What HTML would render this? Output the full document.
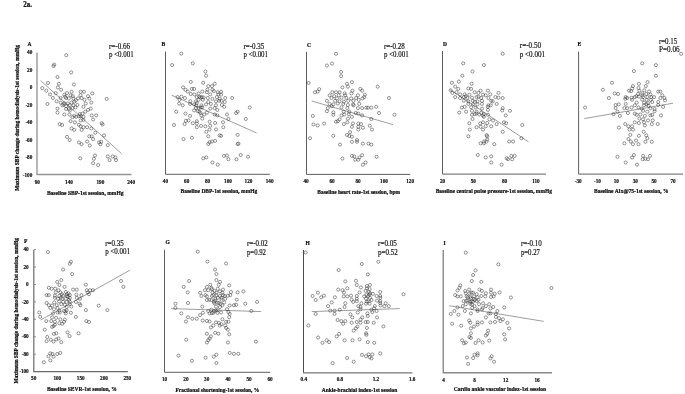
<!DOCTYPE html>
<html lang="en"><head><meta charset="utf-8"><title>Figure 2a</title>
<style>html,body{margin:0;padding:0;background:#fff}svg{display:block}text{font-family:"Liberation Serif","Times New Roman",serif;fill:#111}.b,.tt,.lt{stroke:#111;stroke-width:.22px}.tk{stroke:#111;stroke-width:.17px}.rp{fill:#111;stroke:#111;stroke-width:.16px}.b{font-weight:bold}.tk{font-size:5.2px;font-weight:bold}.tt{font-size:5.7px;font-weight:bold}.rp{font-size:7.3px}.lt{font-size:5.5px;font-weight:bold}.ax{stroke:#8c8c8c;stroke-width:1.25;fill:none}.rl{stroke:#3c3c3c;stroke-width:.5;fill:none}.pt circle{fill:#fff;fill-opacity:.0;stroke:#2c2c2c;stroke-width:.5}</style></head><body>
<svg width="685" height="394" viewBox="0 0 685 394">
<rect width="685" height="394" fill="#fff"/>
<text x="23.2" y="7.0" class="b" style="font-size:7.6px" textLength="8.9" lengthAdjust="spacingAndGlyphs">2a.</text>
<g id="panel-A">
<path class="ax" style="stroke:#959595;stroke-width:1.35" d="M37.00 52.4V174.50H131.5"/>
<path class="rl" d="M40.6 80.6L121.7 153.8"/>
<text x="27.6" y="45.8" class="lt">A</text>
<text x="37.3" y="183.7" class="tk" text-anchor="middle">90</text>
<text x="69.0" y="183.7" class="tk" text-anchor="middle">140</text>
<text x="100.4" y="183.7" class="tk" text-anchor="middle">190</text>
<text x="131.1" y="183.7" class="tk" text-anchor="middle">240</text>
<text x="46.9" y="194.5" class="tt" textLength="76.6" lengthAdjust="spacingAndGlyphs" xml:space="preserve">Baseline SBP-1st session, mmHg</text>
<text x="109.0" y="48.7" class="rp" textLength="21.1" lengthAdjust="spacingAndGlyphs" xml:space="preserve">r=-0.66</text>
<text x="109.0" y="57.1" class="rp" textLength="24.6" lengthAdjust="spacingAndGlyphs" xml:space="preserve">p &lt;0.001</text>
<text x="32.3" y="54.2" class="tk" text-anchor="end">40</text>
<text x="32.3" y="71.7" class="tk" text-anchor="end">20</text>
<text x="32.3" y="89.2" class="tk" text-anchor="end">0</text>
<text x="32.3" y="106.7" class="tk" text-anchor="end">-20</text>
<text x="32.3" y="124.2" class="tk" text-anchor="end">-40</text>
<text x="32.3" y="141.7" class="tk" text-anchor="end">-60</text>
<text x="32.3" y="159.2" class="tk" text-anchor="end">-80</text>
<text x="32.3" y="176.7" class="tk" text-anchor="end">-100</text>
<text transform="translate(19.2 190.8) rotate(-90)" class="tt" textLength="145.8" lengthAdjust="spacingAndGlyphs">Maximum SBP change during hemodialysis-1st session, mmHg</text>
<g class="pt"><circle cx="66.3" cy="55.2" r="1.55"/><circle cx="54.2" cy="64.6" r="1.55"/><circle cx="53.5" cy="66.0" r="1.55"/><circle cx="71.2" cy="72.4" r="1.55"/><circle cx="57.5" cy="77.0" r="1.55"/><circle cx="48.0" cy="83.0" r="1.55"/><circle cx="58.9" cy="83.8" r="1.55"/><circle cx="73.9" cy="84.5" r="1.55"/><circle cx="42.3" cy="88.1" r="1.55"/><circle cx="57.9" cy="87.4" r="1.55"/><circle cx="61.1" cy="89.8" r="1.55"/><circle cx="46.3" cy="90.7" r="1.55"/><circle cx="71.6" cy="91.8" r="1.55"/><circle cx="80.7" cy="91.8" r="1.55"/><circle cx="84.0" cy="91.8" r="1.55"/><circle cx="55.7" cy="93.1" r="1.55"/><circle cx="67.0" cy="93.1" r="1.55"/><circle cx="92.2" cy="93.4" r="1.55"/><circle cx="50.0" cy="94.4" r="1.55"/><circle cx="64.3" cy="94.7" r="1.55"/><circle cx="70.6" cy="95.3" r="1.55"/><circle cx="88.0" cy="96.2" r="1.55"/><circle cx="52.9" cy="98.0" r="1.55"/><circle cx="60.6" cy="98.0" r="1.55"/><circle cx="66.1" cy="98.0" r="1.55"/><circle cx="68.8" cy="98.4" r="1.55"/><circle cx="73.4" cy="98.4" r="1.55"/><circle cx="78.0" cy="98.4" r="1.55"/><circle cx="81.6" cy="98.0" r="1.55"/><circle cx="89.3" cy="98.6" r="1.55"/><circle cx="106.7" cy="98.9" r="1.55"/><circle cx="84.4" cy="99.8" r="1.55"/><circle cx="56.6" cy="101.3" r="1.55"/><circle cx="60.6" cy="102.6" r="1.55"/><circle cx="64.3" cy="103.1" r="1.55"/><circle cx="67.9" cy="103.5" r="1.55"/><circle cx="71.6" cy="102.6" r="1.55"/><circle cx="74.3" cy="101.7" r="1.55"/><circle cx="85.8" cy="103.5" r="1.55"/><circle cx="91.3" cy="102.6" r="1.55"/><circle cx="47.4" cy="104.0" r="1.55"/><circle cx="62.4" cy="105.3" r="1.55"/><circle cx="66.1" cy="106.2" r="1.55"/><circle cx="69.7" cy="105.3" r="1.55"/><circle cx="73.4" cy="105.3" r="1.55"/><circle cx="77.4" cy="105.0" r="1.55"/><circle cx="83.4" cy="106.8" r="1.55"/><circle cx="57.5" cy="108.6" r="1.55"/><circle cx="66.1" cy="109.0" r="1.55"/><circle cx="68.8" cy="109.0" r="1.55"/><circle cx="72.5" cy="108.1" r="1.55"/><circle cx="90.8" cy="108.6" r="1.55"/><circle cx="88.0" cy="109.9" r="1.55"/><circle cx="57.5" cy="112.6" r="1.55"/><circle cx="64.3" cy="114.5" r="1.55"/><circle cx="69.4" cy="114.5" r="1.55"/><circle cx="79.8" cy="114.1" r="1.55"/><circle cx="82.5" cy="113.6" r="1.55"/><circle cx="85.3" cy="111.7" r="1.55"/><circle cx="91.7" cy="115.4" r="1.55"/><circle cx="96.2" cy="115.4" r="1.55"/><circle cx="74.3" cy="115.9" r="1.55"/><circle cx="78.9" cy="116.3" r="1.55"/><circle cx="72.5" cy="117.1" r="1.55"/><circle cx="76.1" cy="116.8" r="1.55"/><circle cx="80.7" cy="116.2" r="1.55"/><circle cx="83.4" cy="116.8" r="1.55"/><circle cx="93.1" cy="119.5" r="1.55"/><circle cx="70.6" cy="121.2" r="1.55"/><circle cx="80.7" cy="120.4" r="1.55"/><circle cx="83.4" cy="119.9" r="1.55"/><circle cx="59.7" cy="124.1" r="1.55"/><circle cx="62.1" cy="125.0" r="1.55"/><circle cx="74.9" cy="122.3" r="1.55"/><circle cx="78.9" cy="124.8" r="1.55"/><circle cx="80.7" cy="126.3" r="1.55"/><circle cx="101.7" cy="123.2" r="1.55"/><circle cx="102.6" cy="124.5" r="1.55"/><circle cx="71.6" cy="128.5" r="1.55"/><circle cx="74.3" cy="129.9" r="1.55"/><circle cx="81.6" cy="129.9" r="1.55"/><circle cx="83.4" cy="127.2" r="1.55"/><circle cx="87.1" cy="127.2" r="1.55"/><circle cx="91.3" cy="128.5" r="1.55"/><circle cx="95.3" cy="132.7" r="1.55"/><circle cx="104.1" cy="135.4" r="1.55"/><circle cx="67.0" cy="136.9" r="1.55"/><circle cx="69.7" cy="140.0" r="1.55"/><circle cx="89.3" cy="136.3" r="1.55"/><circle cx="91.7" cy="136.3" r="1.55"/><circle cx="93.1" cy="139.1" r="1.55"/><circle cx="78.9" cy="142.4" r="1.55"/><circle cx="81.6" cy="144.2" r="1.55"/><circle cx="87.1" cy="141.5" r="1.55"/><circle cx="89.8" cy="145.5" r="1.55"/><circle cx="99.0" cy="142.4" r="1.55"/><circle cx="101.2" cy="141.8" r="1.55"/><circle cx="100.4" cy="144.2" r="1.55"/><circle cx="107.8" cy="145.1" r="1.55"/><circle cx="95.0" cy="155.5" r="1.55"/><circle cx="93.9" cy="158.8" r="1.55"/><circle cx="80.3" cy="158.3" r="1.55"/><circle cx="107.8" cy="156.4" r="1.55"/><circle cx="112.7" cy="156.4" r="1.55"/><circle cx="115.4" cy="157.4" r="1.55"/><circle cx="109.6" cy="160.1" r="1.55"/><circle cx="116.0" cy="160.1" r="1.55"/><circle cx="93.1" cy="163.2" r="1.55"/><circle cx="98.1" cy="165.0" r="1.55"/><circle cx="63.7" cy="104.4" r="1.55"/><circle cx="80.5" cy="95.2" r="1.55"/><circle cx="75.4" cy="107.4" r="1.55"/><circle cx="72.8" cy="96.2" r="1.55"/><circle cx="75.9" cy="100.3" r="1.55"/><circle cx="65.2" cy="96.8" r="1.55"/><circle cx="69.8" cy="110.5" r="1.55"/></g>
</g>
<g id="panel-B">
<path class="ax" style="stroke:#5e5e5e;stroke-width:1.0" d="M165.50 51.6V174.30H269.8"/>
<path class="rl" d="M171.7 95.2L256.7 133"/>
<text x="161.6" y="45.8" class="lt">B</text>
<text x="165.4" y="183.2" class="tk" text-anchor="middle">40</text>
<text x="186.7" y="183.2" class="tk" text-anchor="middle">60</text>
<text x="207.5" y="183.2" class="tk" text-anchor="middle">80</text>
<text x="228.0" y="183.2" class="tk" text-anchor="middle">100</text>
<text x="248.5" y="183.2" class="tk" text-anchor="middle">120</text>
<text x="269.6" y="183.2" class="tk" text-anchor="middle">140</text>
<text x="180.6" y="193.2" class="tt" textLength="76.6" lengthAdjust="spacingAndGlyphs" xml:space="preserve">Baseline DBP-1st session, mmHg</text>
<text x="243.5" y="48.6" class="rp" textLength="20.8" lengthAdjust="spacingAndGlyphs" xml:space="preserve">r=-0.35</text>
<text x="243.5" y="57.3" class="rp" textLength="24.5" lengthAdjust="spacingAndGlyphs" xml:space="preserve">p &lt;0.001</text>
<g class="pt"><circle cx="181.3" cy="53.6" r="1.55"/><circle cx="172.1" cy="65.1" r="1.55"/><circle cx="192.8" cy="63.3" r="1.55"/><circle cx="205.4" cy="71.5" r="1.55"/><circle cx="206.1" cy="75.7" r="1.55"/><circle cx="190.8" cy="81.9" r="1.55"/><circle cx="203.2" cy="82.8" r="1.55"/><circle cx="214.7" cy="83.8" r="1.55"/><circle cx="208.3" cy="86.1" r="1.55"/><circle cx="212.0" cy="86.1" r="1.55"/><circle cx="183.1" cy="87.4" r="1.55"/><circle cx="185.5" cy="89.8" r="1.55"/><circle cx="191.9" cy="88.9" r="1.55"/><circle cx="194.1" cy="88.9" r="1.55"/><circle cx="207.4" cy="89.8" r="1.55"/><circle cx="212.4" cy="89.8" r="1.55"/><circle cx="187.7" cy="91.6" r="1.55"/><circle cx="202.3" cy="91.6" r="1.55"/><circle cx="206.9" cy="92.2" r="1.55"/><circle cx="213.8" cy="91.1" r="1.55"/><circle cx="217.8" cy="92.2" r="1.55"/><circle cx="221.1" cy="91.8" r="1.55"/><circle cx="190.8" cy="94.0" r="1.55"/><circle cx="194.4" cy="94.4" r="1.55"/><circle cx="198.6" cy="93.4" r="1.55"/><circle cx="210.2" cy="94.4" r="1.55"/><circle cx="218.4" cy="94.4" r="1.55"/><circle cx="221.1" cy="94.7" r="1.55"/><circle cx="177.6" cy="97.1" r="1.55"/><circle cx="181.3" cy="96.7" r="1.55"/><circle cx="184.9" cy="98.0" r="1.55"/><circle cx="196.8" cy="97.1" r="1.55"/><circle cx="200.5" cy="97.5" r="1.55"/><circle cx="203.6" cy="97.5" r="1.55"/><circle cx="207.8" cy="98.0" r="1.55"/><circle cx="212.4" cy="98.9" r="1.55"/><circle cx="216.9" cy="97.1" r="1.55"/><circle cx="219.7" cy="98.9" r="1.55"/><circle cx="225.2" cy="98.0" r="1.55"/><circle cx="232.1" cy="98.0" r="1.55"/><circle cx="179.5" cy="99.8" r="1.55"/><circle cx="190.4" cy="101.3" r="1.55"/><circle cx="195.9" cy="101.3" r="1.55"/><circle cx="198.6" cy="99.8" r="1.55"/><circle cx="202.9" cy="99.8" r="1.55"/><circle cx="208.3" cy="102.0" r="1.55"/><circle cx="216.0" cy="101.3" r="1.55"/><circle cx="221.5" cy="100.8" r="1.55"/><circle cx="224.8" cy="102.0" r="1.55"/><circle cx="179.1" cy="103.5" r="1.55"/><circle cx="182.7" cy="105.3" r="1.55"/><circle cx="190.1" cy="103.9" r="1.55"/><circle cx="194.1" cy="104.4" r="1.55"/><circle cx="196.8" cy="103.1" r="1.55"/><circle cx="201.4" cy="105.3" r="1.55"/><circle cx="206.0" cy="104.4" r="1.55"/><circle cx="210.9" cy="103.9" r="1.55"/><circle cx="216.0" cy="105.3" r="1.55"/><circle cx="221.9" cy="105.0" r="1.55"/><circle cx="224.2" cy="106.8" r="1.55"/><circle cx="195.9" cy="108.1" r="1.55"/><circle cx="198.6" cy="108.1" r="1.55"/><circle cx="202.3" cy="107.2" r="1.55"/><circle cx="210.2" cy="108.6" r="1.55"/><circle cx="214.6" cy="108.1" r="1.55"/><circle cx="217.3" cy="109.9" r="1.55"/><circle cx="249.8" cy="107.5" r="1.55"/><circle cx="237.6" cy="111.7" r="1.55"/><circle cx="236.1" cy="113.0" r="1.55"/><circle cx="176.2" cy="111.7" r="1.55"/><circle cx="185.5" cy="113.6" r="1.55"/><circle cx="190.1" cy="115.9" r="1.55"/><circle cx="194.1" cy="110.4" r="1.55"/><circle cx="197.7" cy="111.2" r="1.55"/><circle cx="200.5" cy="113.0" r="1.55"/><circle cx="204.1" cy="114.5" r="1.55"/><circle cx="206.9" cy="112.6" r="1.55"/><circle cx="214.7" cy="114.5" r="1.55"/><circle cx="217.3" cy="115.4" r="1.55"/><circle cx="227.0" cy="114.5" r="1.55"/><circle cx="201.4" cy="115.4" r="1.55"/><circle cx="245.8" cy="119.0" r="1.55"/><circle cx="228.4" cy="119.0" r="1.55"/><circle cx="202.3" cy="118.6" r="1.55"/><circle cx="185.9" cy="120.8" r="1.55"/><circle cx="188.6" cy="120.4" r="1.55"/><circle cx="196.8" cy="121.2" r="1.55"/><circle cx="209.6" cy="121.7" r="1.55"/><circle cx="215.1" cy="123.0" r="1.55"/><circle cx="223.0" cy="122.3" r="1.55"/><circle cx="184.6" cy="124.1" r="1.55"/><circle cx="192.8" cy="123.2" r="1.55"/><circle cx="196.8" cy="123.5" r="1.55"/><circle cx="174.0" cy="125.0" r="1.55"/><circle cx="201.0" cy="125.9" r="1.55"/><circle cx="205.4" cy="126.3" r="1.55"/><circle cx="210.2" cy="125.7" r="1.55"/><circle cx="196.8" cy="127.2" r="1.55"/><circle cx="223.3" cy="127.2" r="1.55"/><circle cx="216.0" cy="129.4" r="1.55"/><circle cx="209.6" cy="129.6" r="1.55"/><circle cx="206.3" cy="131.8" r="1.55"/><circle cx="237.6" cy="134.9" r="1.55"/><circle cx="219.7" cy="135.4" r="1.55"/><circle cx="221.1" cy="135.8" r="1.55"/><circle cx="208.3" cy="136.3" r="1.55"/><circle cx="183.5" cy="139.1" r="1.55"/><circle cx="191.9" cy="137.8" r="1.55"/><circle cx="215.1" cy="140.9" r="1.55"/><circle cx="212.0" cy="141.5" r="1.55"/><circle cx="209.6" cy="142.2" r="1.55"/><circle cx="208.3" cy="144.0" r="1.55"/><circle cx="237.6" cy="144.0" r="1.55"/><circle cx="238.5" cy="143.6" r="1.55"/><circle cx="223.9" cy="155.9" r="1.55"/><circle cx="227.0" cy="155.5" r="1.55"/><circle cx="240.7" cy="155.0" r="1.55"/><circle cx="248.0" cy="156.8" r="1.55"/><circle cx="206.3" cy="157.4" r="1.55"/><circle cx="203.2" cy="158.3" r="1.55"/><circle cx="228.4" cy="159.2" r="1.55"/><circle cx="236.5" cy="159.2" r="1.55"/><circle cx="212.4" cy="162.5" r="1.55"/><circle cx="217.8" cy="164.7" r="1.55"/><circle cx="199.3" cy="96.8" r="1.55"/><circle cx="201.8" cy="97.1" r="1.55"/><circle cx="219.1" cy="100.8" r="1.55"/><circle cx="196.2" cy="105.4" r="1.55"/><circle cx="200.8" cy="107.6" r="1.55"/><circle cx="199.3" cy="111.7" r="1.55"/></g>
</g>
<g id="panel-C">
<path class="ax" style="stroke:#5e5e5e;stroke-width:1.0" d="M306.50 51.8V174.40H410.3"/>
<path class="rl" d="M311.7 101L392.9 124.6"/>
<text x="307.1" y="46.6" class="lt">C</text>
<text x="306.1" y="183.2" class="tk" text-anchor="middle">40</text>
<text x="332.0" y="183.2" class="tk" text-anchor="middle">60</text>
<text x="358.1" y="183.2" class="tk" text-anchor="middle">80</text>
<text x="384.0" y="183.2" class="tk" text-anchor="middle">100</text>
<text x="410.1" y="183.2" class="tk" text-anchor="middle">120</text>
<text x="317.3" y="193.5" class="tt" textLength="82.7" lengthAdjust="spacingAndGlyphs" xml:space="preserve">Baseline heart rate-1st session, bpm</text>
<text x="384.0" y="48.8" class="rp" textLength="20.8" lengthAdjust="spacingAndGlyphs" xml:space="preserve">r=-0.28</text>
<text x="384.0" y="57.2" class="rp" textLength="24.6" lengthAdjust="spacingAndGlyphs" xml:space="preserve">p &lt;0.001</text>
<g class="pt"><circle cx="336.0" cy="53.8" r="1.55"/><circle cx="332.0" cy="63.6" r="1.55"/><circle cx="326.9" cy="65.5" r="1.55"/><circle cx="341.1" cy="71.9" r="1.55"/><circle cx="341.1" cy="76.1" r="1.55"/><circle cx="308.6" cy="83.0" r="1.55"/><circle cx="351.9" cy="82.1" r="1.55"/><circle cx="347.0" cy="83.8" r="1.55"/><circle cx="342.4" cy="87.4" r="1.55"/><circle cx="347.9" cy="86.7" r="1.55"/><circle cx="377.7" cy="86.7" r="1.55"/><circle cx="319.2" cy="89.2" r="1.55"/><circle cx="315.0" cy="92.2" r="1.55"/><circle cx="317.7" cy="91.6" r="1.55"/><circle cx="360.3" cy="88.9" r="1.55"/><circle cx="362.1" cy="90.7" r="1.55"/><circle cx="352.4" cy="90.7" r="1.55"/><circle cx="332.3" cy="92.2" r="1.55"/><circle cx="336.0" cy="92.2" r="1.55"/><circle cx="339.6" cy="92.2" r="1.55"/><circle cx="344.6" cy="93.4" r="1.55"/><circle cx="351.5" cy="93.4" r="1.55"/><circle cx="329.6" cy="95.3" r="1.55"/><circle cx="334.2" cy="96.2" r="1.55"/><circle cx="338.7" cy="95.3" r="1.55"/><circle cx="345.1" cy="95.3" r="1.55"/><circle cx="357.9" cy="95.3" r="1.55"/><circle cx="364.9" cy="94.7" r="1.55"/><circle cx="331.4" cy="98.0" r="1.55"/><circle cx="336.9" cy="98.4" r="1.55"/><circle cx="341.5" cy="97.7" r="1.55"/><circle cx="346.4" cy="98.0" r="1.55"/><circle cx="351.2" cy="98.4" r="1.55"/><circle cx="356.1" cy="98.0" r="1.55"/><circle cx="362.5" cy="98.4" r="1.55"/><circle cx="364.3" cy="97.1" r="1.55"/><circle cx="389.0" cy="98.0" r="1.55"/><circle cx="326.9" cy="100.8" r="1.55"/><circle cx="335.1" cy="100.8" r="1.55"/><circle cx="339.6" cy="101.3" r="1.55"/><circle cx="343.9" cy="101.7" r="1.55"/><circle cx="348.2" cy="100.8" r="1.55"/><circle cx="353.4" cy="100.8" r="1.55"/><circle cx="358.8" cy="99.8" r="1.55"/><circle cx="329.6" cy="103.9" r="1.55"/><circle cx="333.3" cy="104.4" r="1.55"/><circle cx="337.8" cy="103.5" r="1.55"/><circle cx="343.3" cy="103.9" r="1.55"/><circle cx="347.9" cy="105.0" r="1.55"/><circle cx="353.0" cy="104.4" r="1.55"/><circle cx="359.2" cy="103.9" r="1.55"/><circle cx="327.8" cy="108.1" r="1.55"/><circle cx="331.8" cy="106.2" r="1.55"/><circle cx="341.5" cy="107.2" r="1.55"/><circle cx="347.3" cy="108.1" r="1.55"/><circle cx="353.7" cy="105.3" r="1.55"/><circle cx="357.9" cy="108.1" r="1.55"/><circle cx="362.1" cy="108.1" r="1.55"/><circle cx="366.2" cy="107.7" r="1.55"/><circle cx="368.0" cy="107.7" r="1.55"/><circle cx="371.3" cy="107.7" r="1.55"/><circle cx="376.2" cy="106.8" r="1.55"/><circle cx="326.9" cy="111.2" r="1.55"/><circle cx="333.3" cy="112.3" r="1.55"/><circle cx="343.7" cy="111.7" r="1.55"/><circle cx="349.3" cy="111.7" r="1.55"/><circle cx="355.7" cy="113.0" r="1.55"/><circle cx="358.3" cy="113.6" r="1.55"/><circle cx="379.0" cy="113.0" r="1.55"/><circle cx="312.8" cy="115.9" r="1.55"/><circle cx="333.3" cy="114.8" r="1.55"/><circle cx="341.5" cy="115.4" r="1.55"/><circle cx="344.2" cy="114.5" r="1.55"/><circle cx="348.8" cy="114.1" r="1.55"/><circle cx="362.1" cy="115.4" r="1.55"/><circle cx="394.5" cy="114.8" r="1.55"/><circle cx="351.9" cy="116.8" r="1.55"/><circle cx="347.9" cy="118.6" r="1.55"/><circle cx="339.6" cy="119.3" r="1.55"/><circle cx="371.3" cy="119.0" r="1.55"/><circle cx="337.8" cy="121.2" r="1.55"/><circle cx="336.0" cy="121.7" r="1.55"/><circle cx="347.3" cy="122.3" r="1.55"/><circle cx="343.9" cy="124.1" r="1.55"/><circle cx="353.0" cy="123.5" r="1.55"/><circle cx="358.3" cy="123.5" r="1.55"/><circle cx="361.0" cy="124.1" r="1.55"/><circle cx="313.5" cy="124.5" r="1.55"/><circle cx="317.7" cy="125.4" r="1.55"/><circle cx="324.1" cy="123.5" r="1.55"/><circle cx="351.9" cy="126.8" r="1.55"/><circle cx="358.3" cy="126.8" r="1.55"/><circle cx="362.9" cy="127.7" r="1.55"/><circle cx="369.8" cy="125.7" r="1.55"/><circle cx="372.0" cy="129.6" r="1.55"/><circle cx="358.3" cy="129.6" r="1.55"/><circle cx="350.1" cy="132.1" r="1.55"/><circle cx="347.0" cy="134.9" r="1.55"/><circle cx="349.3" cy="136.0" r="1.55"/><circle cx="351.9" cy="136.7" r="1.55"/><circle cx="333.3" cy="135.8" r="1.55"/><circle cx="310.0" cy="138.2" r="1.55"/><circle cx="357.0" cy="140.0" r="1.55"/><circle cx="351.9" cy="141.8" r="1.55"/><circle cx="357.0" cy="141.8" r="1.55"/><circle cx="362.9" cy="143.6" r="1.55"/><circle cx="368.4" cy="143.6" r="1.55"/><circle cx="371.3" cy="144.6" r="1.55"/><circle cx="340.0" cy="144.6" r="1.55"/><circle cx="351.9" cy="155.9" r="1.55"/><circle cx="354.3" cy="156.4" r="1.55"/><circle cx="362.1" cy="155.2" r="1.55"/><circle cx="359.4" cy="157.4" r="1.55"/><circle cx="376.6" cy="156.8" r="1.55"/><circle cx="342.4" cy="158.6" r="1.55"/><circle cx="355.2" cy="159.7" r="1.55"/><circle cx="358.3" cy="159.7" r="1.55"/><circle cx="365.6" cy="162.5" r="1.55"/><circle cx="362.9" cy="164.7" r="1.55"/></g>
</g>
<g id="panel-D">
<path class="ax" style="stroke:#5e5e5e;stroke-width:1.0" d="M442.50 51.0V174.10H546.0"/>
<path class="rl" d="M449.9 89.6L528.5 141.8"/>
<text x="443.1" y="45.8" class="lt">D</text>
<text x="442.6" y="183.2" class="tk" text-anchor="middle">20</text>
<text x="473.3" y="183.2" class="tk" text-anchor="middle">50</text>
<text x="504.5" y="183.2" class="tk" text-anchor="middle">80</text>
<text x="535.9" y="183.2" class="tk" text-anchor="middle">110</text>
<text x="435.7" y="193.2" class="tt" textLength="116.2" lengthAdjust="spacingAndGlyphs" xml:space="preserve">Baseline central pulse pressure-1st session, mmHg</text>
<text x="519.8" y="48.2" class="rp" textLength="21.3" lengthAdjust="spacingAndGlyphs" xml:space="preserve">r=-0.50</text>
<text x="519.8" y="57.1" class="rp" textLength="25.2" lengthAdjust="spacingAndGlyphs" xml:space="preserve">p &lt;0.001</text>
<g class="pt"><circle cx="502.7" cy="53.8" r="1.55"/><circle cx="463.2" cy="63.3" r="1.55"/><circle cx="483.9" cy="65.1" r="1.55"/><circle cx="472.5" cy="71.5" r="1.55"/><circle cx="462.3" cy="75.7" r="1.55"/><circle cx="451.9" cy="82.8" r="1.55"/><circle cx="458.8" cy="81.6" r="1.55"/><circle cx="471.6" cy="83.8" r="1.55"/><circle cx="455.2" cy="86.7" r="1.55"/><circle cx="458.3" cy="88.9" r="1.55"/><circle cx="468.3" cy="88.5" r="1.55"/><circle cx="471.1" cy="88.9" r="1.55"/><circle cx="480.6" cy="90.7" r="1.55"/><circle cx="487.9" cy="90.7" r="1.55"/><circle cx="450.6" cy="90.3" r="1.55"/><circle cx="452.4" cy="92.9" r="1.55"/><circle cx="456.5" cy="92.2" r="1.55"/><circle cx="474.7" cy="92.2" r="1.55"/><circle cx="478.4" cy="92.9" r="1.55"/><circle cx="498.5" cy="92.9" r="1.55"/><circle cx="460.1" cy="94.4" r="1.55"/><circle cx="464.7" cy="94.4" r="1.55"/><circle cx="469.3" cy="94.7" r="1.55"/><circle cx="483.0" cy="94.7" r="1.55"/><circle cx="485.7" cy="95.3" r="1.55"/><circle cx="490.3" cy="94.4" r="1.55"/><circle cx="455.2" cy="97.1" r="1.55"/><circle cx="460.1" cy="98.0" r="1.55"/><circle cx="463.8" cy="97.1" r="1.55"/><circle cx="467.4" cy="98.0" r="1.55"/><circle cx="472.0" cy="97.7" r="1.55"/><circle cx="476.6" cy="97.1" r="1.55"/><circle cx="481.1" cy="98.0" r="1.55"/><circle cx="488.4" cy="98.0" r="1.55"/><circle cx="495.4" cy="97.1" r="1.55"/><circle cx="498.5" cy="97.7" r="1.55"/><circle cx="502.7" cy="98.0" r="1.55"/><circle cx="463.8" cy="100.8" r="1.55"/><circle cx="468.3" cy="101.3" r="1.55"/><circle cx="472.9" cy="100.8" r="1.55"/><circle cx="477.5" cy="101.3" r="1.55"/><circle cx="482.0" cy="100.8" r="1.55"/><circle cx="491.2" cy="100.8" r="1.55"/><circle cx="468.3" cy="103.9" r="1.55"/><circle cx="472.9" cy="104.4" r="1.55"/><circle cx="477.5" cy="104.4" r="1.55"/><circle cx="482.0" cy="103.9" r="1.55"/><circle cx="488.4" cy="105.3" r="1.55"/><circle cx="496.7" cy="103.9" r="1.55"/><circle cx="461.9" cy="107.5" r="1.55"/><circle cx="464.7" cy="106.8" r="1.55"/><circle cx="471.1" cy="107.2" r="1.55"/><circle cx="475.6" cy="107.5" r="1.55"/><circle cx="482.0" cy="108.6" r="1.55"/><circle cx="487.9" cy="106.8" r="1.55"/><circle cx="490.8" cy="105.3" r="1.55"/><circle cx="502.7" cy="108.1" r="1.55"/><circle cx="459.2" cy="112.6" r="1.55"/><circle cx="466.1" cy="111.7" r="1.55"/><circle cx="472.0" cy="110.8" r="1.55"/><circle cx="476.6" cy="111.7" r="1.55"/><circle cx="481.1" cy="113.0" r="1.55"/><circle cx="487.9" cy="109.9" r="1.55"/><circle cx="502.2" cy="110.4" r="1.55"/><circle cx="510.0" cy="110.8" r="1.55"/><circle cx="472.0" cy="114.8" r="1.55"/><circle cx="474.7" cy="114.1" r="1.55"/><circle cx="479.3" cy="114.5" r="1.55"/><circle cx="483.9" cy="114.1" r="1.55"/><circle cx="487.9" cy="114.8" r="1.55"/><circle cx="505.8" cy="115.4" r="1.55"/><circle cx="483.9" cy="116.8" r="1.55"/><circle cx="472.5" cy="119.0" r="1.55"/><circle cx="489.4" cy="119.3" r="1.55"/><circle cx="493.0" cy="120.4" r="1.55"/><circle cx="483.0" cy="122.3" r="1.55"/><circle cx="480.2" cy="123.5" r="1.55"/><circle cx="487.2" cy="123.0" r="1.55"/><circle cx="469.3" cy="123.2" r="1.55"/><circle cx="504.0" cy="122.3" r="1.55"/><circle cx="506.2" cy="123.2" r="1.55"/><circle cx="496.7" cy="124.1" r="1.55"/><circle cx="522.3" cy="125.0" r="1.55"/><circle cx="476.6" cy="127.2" r="1.55"/><circle cx="480.6" cy="126.8" r="1.55"/><circle cx="485.7" cy="126.3" r="1.55"/><circle cx="491.2" cy="126.3" r="1.55"/><circle cx="469.8" cy="129.6" r="1.55"/><circle cx="483.0" cy="129.6" r="1.55"/><circle cx="502.7" cy="131.8" r="1.55"/><circle cx="468.3" cy="136.3" r="1.55"/><circle cx="486.6" cy="135.1" r="1.55"/><circle cx="487.2" cy="136.3" r="1.55"/><circle cx="521.4" cy="138.2" r="1.55"/><circle cx="487.2" cy="139.4" r="1.55"/><circle cx="483.9" cy="141.5" r="1.55"/><circle cx="486.6" cy="141.5" r="1.55"/><circle cx="509.1" cy="141.5" r="1.55"/><circle cx="513.1" cy="141.5" r="1.55"/><circle cx="480.6" cy="143.3" r="1.55"/><circle cx="483.9" cy="143.3" r="1.55"/><circle cx="494.3" cy="144.2" r="1.55"/><circle cx="477.8" cy="155.0" r="1.55"/><circle cx="491.2" cy="156.4" r="1.55"/><circle cx="485.7" cy="157.4" r="1.55"/><circle cx="511.3" cy="155.9" r="1.55"/><circle cx="514.6" cy="155.9" r="1.55"/><circle cx="506.7" cy="158.3" r="1.55"/><circle cx="508.0" cy="159.2" r="1.55"/><circle cx="512.2" cy="159.2" r="1.55"/><circle cx="491.2" cy="162.5" r="1.55"/><circle cx="501.6" cy="164.7" r="1.55"/><circle cx="465.8" cy="96.2" r="1.55"/><circle cx="478.5" cy="96.8" r="1.55"/><circle cx="474.9" cy="101.8" r="1.55"/><circle cx="476.4" cy="113.5" r="1.55"/><circle cx="483.0" cy="115.5" r="1.55"/><circle cx="492.7" cy="101.3" r="1.55"/></g>
</g>
<g id="panel-E">
<path class="ax" style="stroke:#5e5e5e;stroke-width:1.0" d="M578.60 51.6V174.10H683.0"/>
<path class="rl" d="M584.3 118.6L673.1 103.2"/>
<text x="577.4" y="45.8" class="lt">E</text>
<text x="578.2" y="182.6" class="tk" text-anchor="middle">-30</text>
<text x="597.5" y="182.6" class="tk" text-anchor="middle">-10</text>
<text x="616.3" y="182.6" class="tk" text-anchor="middle">10</text>
<text x="635.3" y="182.6" class="tk" text-anchor="middle">30</text>
<text x="654.0" y="182.6" class="tk" text-anchor="middle">50</text>
<text x="673.0" y="182.6" class="tk" text-anchor="middle">70</text>
<text x="594.0" y="192.7" class="tt" textLength="74.5" lengthAdjust="spacingAndGlyphs" xml:space="preserve">Baseline AIx@75-1st session, %</text>
<text x="658.9" y="43.9" class="rp" textLength="18.4" lengthAdjust="spacingAndGlyphs" xml:space="preserve">r=0.15</text>
<text x="659.0" y="52.0" class="rp" textLength="20.6" lengthAdjust="spacingAndGlyphs" xml:space="preserve">P=0.06</text>
<g class="pt"><circle cx="681.1" cy="53.8" r="1.55"/><circle cx="642.2" cy="63.3" r="1.55"/><circle cx="655.9" cy="65.1" r="1.55"/><circle cx="633.9" cy="71.1" r="1.55"/><circle cx="655.9" cy="75.7" r="1.55"/><circle cx="612.0" cy="82.8" r="1.55"/><circle cx="647.6" cy="82.1" r="1.55"/><circle cx="638.9" cy="83.8" r="1.55"/><circle cx="633.0" cy="86.1" r="1.55"/><circle cx="645.8" cy="86.1" r="1.55"/><circle cx="602.9" cy="89.8" r="1.55"/><circle cx="632.1" cy="88.5" r="1.55"/><circle cx="638.5" cy="88.0" r="1.55"/><circle cx="629.0" cy="90.7" r="1.55"/><circle cx="631.2" cy="91.1" r="1.55"/><circle cx="639.4" cy="90.7" r="1.55"/><circle cx="644.4" cy="90.3" r="1.55"/><circle cx="649.1" cy="91.6" r="1.55"/><circle cx="658.2" cy="91.6" r="1.55"/><circle cx="660.4" cy="91.6" r="1.55"/><circle cx="614.7" cy="93.4" r="1.55"/><circle cx="618.0" cy="94.0" r="1.55"/><circle cx="638.1" cy="94.0" r="1.55"/><circle cx="642.2" cy="93.4" r="1.55"/><circle cx="646.2" cy="94.0" r="1.55"/><circle cx="650.4" cy="94.4" r="1.55"/><circle cx="662.3" cy="95.3" r="1.55"/><circle cx="608.9" cy="98.0" r="1.55"/><circle cx="625.7" cy="97.1" r="1.55"/><circle cx="627.2" cy="98.0" r="1.55"/><circle cx="631.6" cy="97.7" r="1.55"/><circle cx="634.8" cy="97.1" r="1.55"/><circle cx="638.9" cy="96.6" r="1.55"/><circle cx="643.1" cy="97.1" r="1.55"/><circle cx="647.3" cy="97.1" r="1.55"/><circle cx="651.3" cy="97.1" r="1.55"/><circle cx="654.0" cy="97.1" r="1.55"/><circle cx="660.4" cy="98.0" r="1.55"/><circle cx="664.5" cy="98.0" r="1.55"/><circle cx="625.3" cy="98.9" r="1.55"/><circle cx="632.1" cy="99.8" r="1.55"/><circle cx="642.2" cy="99.5" r="1.55"/><circle cx="646.7" cy="99.8" r="1.55"/><circle cx="650.9" cy="99.8" r="1.55"/><circle cx="665.0" cy="100.4" r="1.55"/><circle cx="636.7" cy="102.6" r="1.55"/><circle cx="644.0" cy="102.6" r="1.55"/><circle cx="648.0" cy="103.1" r="1.55"/><circle cx="652.2" cy="102.0" r="1.55"/><circle cx="658.2" cy="102.0" r="1.55"/><circle cx="615.6" cy="105.0" r="1.55"/><circle cx="618.8" cy="104.4" r="1.55"/><circle cx="625.7" cy="103.9" r="1.55"/><circle cx="634.8" cy="105.3" r="1.55"/><circle cx="644.0" cy="105.3" r="1.55"/><circle cx="648.6" cy="105.7" r="1.55"/><circle cx="658.2" cy="105.0" r="1.55"/><circle cx="585.1" cy="107.5" r="1.55"/><circle cx="615.6" cy="108.1" r="1.55"/><circle cx="624.4" cy="108.1" r="1.55"/><circle cx="627.2" cy="108.1" r="1.55"/><circle cx="631.6" cy="107.5" r="1.55"/><circle cx="638.5" cy="107.5" r="1.55"/><circle cx="641.8" cy="108.6" r="1.55"/><circle cx="650.4" cy="108.1" r="1.55"/><circle cx="654.6" cy="109.0" r="1.55"/><circle cx="663.2" cy="106.8" r="1.55"/><circle cx="617.5" cy="111.7" r="1.55"/><circle cx="613.5" cy="114.1" r="1.55"/><circle cx="627.9" cy="113.0" r="1.55"/><circle cx="634.8" cy="113.6" r="1.55"/><circle cx="643.1" cy="110.8" r="1.55"/><circle cx="647.3" cy="111.7" r="1.55"/><circle cx="654.6" cy="111.2" r="1.55"/><circle cx="636.7" cy="114.8" r="1.55"/><circle cx="640.3" cy="114.5" r="1.55"/><circle cx="650.4" cy="115.4" r="1.55"/><circle cx="652.2" cy="114.8" r="1.55"/><circle cx="661.0" cy="115.4" r="1.55"/><circle cx="644.9" cy="115.9" r="1.55"/><circle cx="619.9" cy="115.9" r="1.55"/><circle cx="639.4" cy="118.6" r="1.55"/><circle cx="643.1" cy="119.3" r="1.55"/><circle cx="648.0" cy="120.4" r="1.55"/><circle cx="652.8" cy="120.4" r="1.55"/><circle cx="634.8" cy="122.3" r="1.55"/><circle cx="638.9" cy="123.0" r="1.55"/><circle cx="644.0" cy="122.3" r="1.55"/><circle cx="625.2" cy="124.1" r="1.55"/><circle cx="651.8" cy="124.1" r="1.55"/><circle cx="657.7" cy="124.1" r="1.55"/><circle cx="644.9" cy="125.4" r="1.55"/><circle cx="628.4" cy="126.3" r="1.55"/><circle cx="632.1" cy="126.3" r="1.55"/><circle cx="618.9" cy="127.6" r="1.55"/><circle cx="629.4" cy="129.6" r="1.55"/><circle cx="633.0" cy="129.6" r="1.55"/><circle cx="643.6" cy="131.8" r="1.55"/><circle cx="630.3" cy="134.9" r="1.55"/><circle cx="638.9" cy="135.8" r="1.55"/><circle cx="646.2" cy="135.4" r="1.55"/><circle cx="628.4" cy="139.1" r="1.55"/><circle cx="647.3" cy="138.2" r="1.55"/><circle cx="636.1" cy="140.5" r="1.55"/><circle cx="630.8" cy="141.5" r="1.55"/><circle cx="645.4" cy="141.8" r="1.55"/><circle cx="651.8" cy="141.8" r="1.55"/><circle cx="624.4" cy="143.3" r="1.55"/><circle cx="633.0" cy="144.2" r="1.55"/><circle cx="638.5" cy="144.2" r="1.55"/><circle cx="633.9" cy="155.0" r="1.55"/><circle cx="643.1" cy="155.9" r="1.55"/><circle cx="650.0" cy="155.9" r="1.55"/><circle cx="617.5" cy="156.8" r="1.55"/><circle cx="632.1" cy="157.4" r="1.55"/><circle cx="642.7" cy="159.2" r="1.55"/><circle cx="645.4" cy="158.8" r="1.55"/><circle cx="648.0" cy="159.2" r="1.55"/><circle cx="625.7" cy="162.5" r="1.55"/><circle cx="637.0" cy="164.7" r="1.55"/><circle cx="636.4" cy="96.2" r="1.55"/><circle cx="642.5" cy="95.2" r="1.55"/><circle cx="646.5" cy="104.4" r="1.55"/></g>
</g>
<g id="panel-F">
<path class="ax" style="stroke:#6a6a6a;stroke-width:1.2" d="M33.80 249.7V371.70H127.8"/>
<path class="rl" d="M40.6 320.1L129.9 270.2"/>
<text x="24.1" y="242.8" class="lt">F</text>
<text x="33.7" y="379.7" class="tk" text-anchor="middle">50</text>
<text x="57.3" y="379.7" class="tk" text-anchor="middle">100</text>
<text x="80.7" y="379.7" class="tk" text-anchor="middle">150</text>
<text x="104.0" y="379.7" class="tk" text-anchor="middle">200</text>
<text x="127.3" y="379.7" class="tk" text-anchor="middle">250</text>
<text x="46.9" y="391.0" class="tt" textLength="69.8" lengthAdjust="spacingAndGlyphs" xml:space="preserve">Baseline SEVR-1st session, %</text>
<text x="105.2" y="245.6" class="rp" textLength="18.6" lengthAdjust="spacingAndGlyphs" xml:space="preserve">r=0.35</text>
<text x="105.2" y="254.0" class="rp" textLength="24.9" lengthAdjust="spacingAndGlyphs" xml:space="preserve">p &lt;0.001</text>
<text x="28.7" y="251.3" class="tk" text-anchor="end">40</text>
<path d="M33.8 249.6h2.2" stroke="#6a6a6a" stroke-width=".7"/>
<text x="28.7" y="268.7" class="tk" text-anchor="end">20</text>
<path d="M33.8 267.0h2.2" stroke="#6a6a6a" stroke-width=".7"/>
<text x="28.7" y="286.2" class="tk" text-anchor="end">0</text>
<path d="M33.8 284.5h2.2" stroke="#6a6a6a" stroke-width=".7"/>
<text x="28.7" y="303.6" class="tk" text-anchor="end">-20</text>
<path d="M33.8 301.9h2.2" stroke="#6a6a6a" stroke-width=".7"/>
<text x="28.7" y="321.0" class="tk" text-anchor="end">-40</text>
<path d="M33.8 319.3h2.2" stroke="#6a6a6a" stroke-width=".7"/>
<text x="28.7" y="338.4" class="tk" text-anchor="end">-60</text>
<path d="M33.8 336.8h2.2" stroke="#6a6a6a" stroke-width=".7"/>
<text x="28.7" y="355.9" class="tk" text-anchor="end">-80</text>
<path d="M33.8 354.2h2.2" stroke="#6a6a6a" stroke-width=".7"/>
<text x="28.7" y="373.3" class="tk" text-anchor="end">-100</text>
<text transform="translate(17.8 383.6) rotate(-90)" class="tt" textLength="145.5" lengthAdjust="spacingAndGlyphs">Maximum SBP change during hemodialysis-1st session, mmHg</text>
<g class="pt"><circle cx="47.9" cy="252.1" r="1.55"/><circle cx="70.9" cy="261.8" r="1.55"/><circle cx="69.8" cy="263.7" r="1.55"/><circle cx="63.1" cy="269.5" r="1.55"/><circle cx="72.2" cy="274.1" r="1.55"/><circle cx="61.3" cy="280.1" r="1.55"/><circle cx="57.2" cy="281.9" r="1.55"/><circle cx="121.0" cy="281.0" r="1.55"/><circle cx="85.9" cy="284.7" r="1.55"/><circle cx="59.4" cy="285.0" r="1.55"/><circle cx="64.5" cy="286.9" r="1.55"/><circle cx="48.8" cy="287.8" r="1.55"/><circle cx="51.7" cy="288.7" r="1.55"/><circle cx="55.2" cy="288.7" r="1.55"/><circle cx="123.4" cy="286.9" r="1.55"/><circle cx="58.5" cy="290.2" r="1.55"/><circle cx="73.1" cy="289.6" r="1.55"/><circle cx="76.8" cy="289.6" r="1.55"/><circle cx="86.8" cy="290.2" r="1.55"/><circle cx="90.1" cy="290.2" r="1.55"/><circle cx="92.9" cy="290.2" r="1.55"/><circle cx="55.8" cy="292.4" r="1.55"/><circle cx="60.3" cy="292.4" r="1.55"/><circle cx="65.8" cy="292.0" r="1.55"/><circle cx="68.6" cy="293.3" r="1.55"/><circle cx="87.8" cy="292.4" r="1.55"/><circle cx="46.6" cy="295.1" r="1.55"/><circle cx="48.8" cy="295.1" r="1.55"/><circle cx="54.9" cy="295.7" r="1.55"/><circle cx="59.4" cy="296.0" r="1.55"/><circle cx="63.1" cy="295.7" r="1.55"/><circle cx="66.7" cy="296.0" r="1.55"/><circle cx="69.8" cy="295.1" r="1.55"/><circle cx="76.4" cy="294.6" r="1.55"/><circle cx="81.4" cy="295.1" r="1.55"/><circle cx="89.0" cy="294.2" r="1.55"/><circle cx="54.9" cy="297.8" r="1.55"/><circle cx="58.0" cy="298.8" r="1.55"/><circle cx="62.2" cy="298.8" r="1.55"/><circle cx="65.8" cy="298.8" r="1.55"/><circle cx="69.8" cy="297.8" r="1.55"/><circle cx="76.8" cy="297.8" r="1.55"/><circle cx="79.9" cy="298.8" r="1.55"/><circle cx="59.1" cy="301.5" r="1.55"/><circle cx="63.1" cy="301.9" r="1.55"/><circle cx="66.7" cy="301.9" r="1.55"/><circle cx="69.8" cy="301.5" r="1.55"/><circle cx="75.9" cy="301.9" r="1.55"/><circle cx="46.6" cy="303.0" r="1.55"/><circle cx="54.3" cy="302.4" r="1.55"/><circle cx="48.8" cy="305.2" r="1.55"/><circle cx="52.1" cy="305.5" r="1.55"/><circle cx="56.7" cy="305.2" r="1.55"/><circle cx="61.3" cy="304.2" r="1.55"/><circle cx="64.9" cy="304.8" r="1.55"/><circle cx="69.8" cy="304.2" r="1.55"/><circle cx="79.5" cy="303.7" r="1.55"/><circle cx="80.4" cy="305.2" r="1.55"/><circle cx="50.3" cy="307.9" r="1.55"/><circle cx="57.6" cy="307.9" r="1.55"/><circle cx="66.7" cy="307.0" r="1.55"/><circle cx="71.3" cy="306.6" r="1.55"/><circle cx="98.7" cy="305.7" r="1.55"/><circle cx="53.9" cy="309.2" r="1.55"/><circle cx="59.4" cy="310.6" r="1.55"/><circle cx="64.0" cy="311.0" r="1.55"/><circle cx="66.7" cy="310.3" r="1.55"/><circle cx="85.9" cy="310.1" r="1.55"/><circle cx="107.3" cy="310.1" r="1.55"/><circle cx="39.3" cy="312.5" r="1.55"/><circle cx="53.0" cy="313.4" r="1.55"/><circle cx="57.6" cy="312.5" r="1.55"/><circle cx="65.8" cy="313.4" r="1.55"/><circle cx="70.9" cy="312.8" r="1.55"/><circle cx="40.2" cy="316.9" r="1.55"/><circle cx="75.9" cy="316.9" r="1.55"/><circle cx="52.1" cy="317.4" r="1.55"/><circle cx="56.1" cy="317.8" r="1.55"/><circle cx="60.3" cy="319.3" r="1.55"/><circle cx="64.9" cy="319.6" r="1.55"/><circle cx="46.3" cy="321.1" r="1.55"/><circle cx="51.2" cy="321.1" r="1.55"/><circle cx="54.9" cy="321.8" r="1.55"/><circle cx="64.0" cy="321.8" r="1.55"/><circle cx="86.3" cy="321.1" r="1.55"/><circle cx="89.0" cy="322.0" r="1.55"/><circle cx="59.4" cy="323.3" r="1.55"/><circle cx="62.2" cy="323.8" r="1.55"/><circle cx="54.9" cy="324.7" r="1.55"/><circle cx="52.1" cy="326.9" r="1.55"/><circle cx="53.6" cy="326.0" r="1.55"/><circle cx="44.8" cy="329.7" r="1.55"/><circle cx="67.6" cy="332.4" r="1.55"/><circle cx="78.6" cy="333.3" r="1.55"/><circle cx="53.9" cy="333.9" r="1.55"/><circle cx="56.3" cy="333.3" r="1.55"/><circle cx="69.5" cy="336.1" r="1.55"/><circle cx="47.2" cy="337.0" r="1.55"/><circle cx="58.5" cy="338.5" r="1.55"/><circle cx="56.3" cy="339.4" r="1.55"/><circle cx="50.8" cy="339.7" r="1.55"/><circle cx="46.6" cy="341.2" r="1.55"/><circle cx="53.6" cy="341.6" r="1.55"/><circle cx="61.3" cy="342.1" r="1.55"/><circle cx="60.3" cy="352.9" r="1.55"/><circle cx="50.3" cy="353.4" r="1.55"/><circle cx="52.5" cy="354.0" r="1.55"/><circle cx="57.2" cy="354.0" r="1.55"/><circle cx="48.5" cy="356.2" r="1.55"/><circle cx="53.6" cy="356.7" r="1.55"/><circle cx="50.3" cy="360.4" r="1.55"/><circle cx="43.9" cy="362.2" r="1.55"/><circle cx="61.9" cy="294.2" r="1.55"/><circle cx="66.9" cy="294.2" r="1.55"/><circle cx="60.8" cy="297.7" r="1.55"/><circle cx="67.9" cy="296.7" r="1.55"/><circle cx="69.0" cy="299.8" r="1.55"/><circle cx="59.8" cy="312.5" r="1.55"/><circle cx="65.4" cy="311.4" r="1.55"/></g>
</g>
<g id="panel-G">
<path class="ax" style="stroke:#5e5e5e;stroke-width:1.0" d="M164.50 249.7V372.30H270.2"/>
<path class="rl" d="M171.2 308.6L261.2 311.6"/>
<text x="165.4" y="244.1" class="lt">G</text>
<text x="164.6" y="380.9" class="tk" text-anchor="middle">10</text>
<text x="185.9" y="380.9" class="tk" text-anchor="middle">20</text>
<text x="206.7" y="380.9" class="tk" text-anchor="middle">30</text>
<text x="228.0" y="380.9" class="tk" text-anchor="middle">40</text>
<text x="249.0" y="380.9" class="tk" text-anchor="middle">50</text>
<text x="270.0" y="380.9" class="tk" text-anchor="middle">60</text>
<text x="175.5" y="391.5" class="tt" textLength="83.7" lengthAdjust="spacingAndGlyphs" xml:space="preserve">Fractional shortening-1st session, %</text>
<text x="247.0" y="246.4" class="rp" textLength="20.6" lengthAdjust="spacingAndGlyphs" xml:space="preserve">r=-0.02</text>
<text x="247.0" y="254.8" class="rp" textLength="19.0" lengthAdjust="spacingAndGlyphs" xml:space="preserve">p=0.92</text>
<g class="pt"><circle cx="197.7" cy="251.8" r="1.55"/><circle cx="207.4" cy="261.6" r="1.55"/><circle cx="226.1" cy="263.5" r="1.55"/><circle cx="215.1" cy="269.5" r="1.55"/><circle cx="216.4" cy="274.1" r="1.55"/><circle cx="216.4" cy="280.1" r="1.55"/><circle cx="189.1" cy="281.0" r="1.55"/><circle cx="220.0" cy="281.9" r="1.55"/><circle cx="210.2" cy="284.7" r="1.55"/><circle cx="218.8" cy="284.7" r="1.55"/><circle cx="229.2" cy="285.4" r="1.55"/><circle cx="183.7" cy="286.9" r="1.55"/><circle cx="206.9" cy="286.9" r="1.55"/><circle cx="211.4" cy="287.8" r="1.55"/><circle cx="217.8" cy="288.7" r="1.55"/><circle cx="223.0" cy="289.6" r="1.55"/><circle cx="205.0" cy="290.2" r="1.55"/><circle cx="208.2" cy="290.2" r="1.55"/><circle cx="214.6" cy="290.9" r="1.55"/><circle cx="220.0" cy="291.4" r="1.55"/><circle cx="187.7" cy="292.4" r="1.55"/><circle cx="200.1" cy="292.7" r="1.55"/><circle cx="212.4" cy="292.4" r="1.55"/><circle cx="222.4" cy="292.7" r="1.55"/><circle cx="231.0" cy="292.0" r="1.55"/><circle cx="237.6" cy="292.4" r="1.55"/><circle cx="243.4" cy="291.4" r="1.55"/><circle cx="201.4" cy="296.0" r="1.55"/><circle cx="205.4" cy="295.1" r="1.55"/><circle cx="206.9" cy="296.4" r="1.55"/><circle cx="212.0" cy="296.0" r="1.55"/><circle cx="216.4" cy="295.1" r="1.55"/><circle cx="220.0" cy="296.0" r="1.55"/><circle cx="224.8" cy="296.0" r="1.55"/><circle cx="227.9" cy="295.7" r="1.55"/><circle cx="230.3" cy="295.1" r="1.55"/><circle cx="217.8" cy="297.8" r="1.55"/><circle cx="221.5" cy="297.8" r="1.55"/><circle cx="225.2" cy="298.8" r="1.55"/><circle cx="206.9" cy="300.0" r="1.55"/><circle cx="211.4" cy="300.0" r="1.55"/><circle cx="215.1" cy="300.6" r="1.55"/><circle cx="236.7" cy="299.7" r="1.55"/><circle cx="257.1" cy="301.9" r="1.55"/><circle cx="175.4" cy="303.7" r="1.55"/><circle cx="188.0" cy="303.0" r="1.55"/><circle cx="214.2" cy="303.3" r="1.55"/><circle cx="218.8" cy="303.0" r="1.55"/><circle cx="224.2" cy="302.4" r="1.55"/><circle cx="245.3" cy="303.7" r="1.55"/><circle cx="222.4" cy="305.2" r="1.55"/><circle cx="229.7" cy="305.5" r="1.55"/><circle cx="233.9" cy="305.2" r="1.55"/><circle cx="236.1" cy="304.8" r="1.55"/><circle cx="202.3" cy="306.6" r="1.55"/><circle cx="216.0" cy="306.6" r="1.55"/><circle cx="220.0" cy="307.0" r="1.55"/><circle cx="175.4" cy="307.9" r="1.55"/><circle cx="208.2" cy="311.0" r="1.55"/><circle cx="211.4" cy="309.7" r="1.55"/><circle cx="214.2" cy="311.0" r="1.55"/><circle cx="217.8" cy="310.3" r="1.55"/><circle cx="227.0" cy="309.2" r="1.55"/><circle cx="251.3" cy="311.0" r="1.55"/><circle cx="181.3" cy="313.4" r="1.55"/><circle cx="202.9" cy="312.8" r="1.55"/><circle cx="209.6" cy="313.4" r="1.55"/><circle cx="213.3" cy="312.8" r="1.55"/><circle cx="217.5" cy="312.8" r="1.55"/><circle cx="221.1" cy="312.5" r="1.55"/><circle cx="228.4" cy="312.1" r="1.55"/><circle cx="229.7" cy="313.9" r="1.55"/><circle cx="200.1" cy="315.1" r="1.55"/><circle cx="188.0" cy="317.2" r="1.55"/><circle cx="229.2" cy="317.2" r="1.55"/><circle cx="192.3" cy="318.7" r="1.55"/><circle cx="196.8" cy="318.7" r="1.55"/><circle cx="222.4" cy="319.3" r="1.55"/><circle cx="185.9" cy="321.5" r="1.55"/><circle cx="202.7" cy="320.5" r="1.55"/><circle cx="206.9" cy="320.9" r="1.55"/><circle cx="209.6" cy="321.5" r="1.55"/><circle cx="216.0" cy="322.4" r="1.55"/><circle cx="218.8" cy="322.9" r="1.55"/><circle cx="226.1" cy="321.8" r="1.55"/><circle cx="228.4" cy="321.8" r="1.55"/><circle cx="221.5" cy="324.2" r="1.55"/><circle cx="213.3" cy="325.5" r="1.55"/><circle cx="219.7" cy="325.5" r="1.55"/><circle cx="225.2" cy="325.5" r="1.55"/><circle cx="210.9" cy="327.5" r="1.55"/><circle cx="226.1" cy="327.9" r="1.55"/><circle cx="227.9" cy="329.7" r="1.55"/><circle cx="206.9" cy="333.7" r="1.55"/><circle cx="215.1" cy="332.8" r="1.55"/><circle cx="218.4" cy="333.7" r="1.55"/><circle cx="229.2" cy="334.3" r="1.55"/><circle cx="210.9" cy="336.4" r="1.55"/><circle cx="209.6" cy="338.5" r="1.55"/><circle cx="186.2" cy="339.7" r="1.55"/><circle cx="208.3" cy="340.1" r="1.55"/><circle cx="255.9" cy="341.6" r="1.55"/><circle cx="206.9" cy="342.5" r="1.55"/><circle cx="227.9" cy="342.5" r="1.55"/><circle cx="229.7" cy="352.9" r="1.55"/><circle cx="233.9" cy="353.8" r="1.55"/><circle cx="238.3" cy="353.8" r="1.55"/><circle cx="178.5" cy="355.6" r="1.55"/><circle cx="216.4" cy="354.7" r="1.55"/><circle cx="213.8" cy="356.7" r="1.55"/><circle cx="205.6" cy="357.7" r="1.55"/><circle cx="191.9" cy="360.8" r="1.55"/><circle cx="216.4" cy="363.0" r="1.55"/><circle cx="211.8" cy="289.1" r="1.55"/><circle cx="216.4" cy="292.7" r="1.55"/><circle cx="213.4" cy="295.2" r="1.55"/><circle cx="223.0" cy="295.2" r="1.55"/><circle cx="215.4" cy="298.8" r="1.55"/><circle cx="221.5" cy="299.8" r="1.55"/><circle cx="213.9" cy="301.8" r="1.55"/><circle cx="217.4" cy="302.8" r="1.55"/><circle cx="220.5" cy="303.9" r="1.55"/><circle cx="211.8" cy="313.0" r="1.55"/><circle cx="215.9" cy="310.5" r="1.55"/><circle cx="209.3" cy="299.8" r="1.55"/></g>
</g>
<g id="panel-H">
<path class="ax" style="stroke:#4c4c4c;stroke-width:1.0" d="M303.50 250.0V372.80"/>
<path class="ax" style="stroke:#777;stroke-width:1.2" d="M303.00 372.80H412.4"/>
<path class="rl" d="M311.7 311.6L399.7 308.6"/>
<text x="305.4" y="244.6" class="lt">H</text>
<text x="303.8" y="381.0" class="tk" text-anchor="middle">0.4</text>
<text x="339.9" y="381.0" class="tk" text-anchor="middle">0.8</text>
<text x="375.9" y="381.0" class="tk" text-anchor="middle">1.2</text>
<text x="412.2" y="381.0" class="tk" text-anchor="middle">1.6</text>
<text x="321.8" y="391.8" class="tt" textLength="75.4" lengthAdjust="spacingAndGlyphs" xml:space="preserve">Ankle-brachial index-1st session</text>
<text x="378.0" y="246.4" class="rp" textLength="18.9" lengthAdjust="spacingAndGlyphs" xml:space="preserve">r=0.05</text>
<text x="378.0" y="254.8" class="rp" textLength="19.7" lengthAdjust="spacingAndGlyphs" xml:space="preserve">p=0.52</text>
<g class="pt"><circle cx="305.7" cy="252.5" r="1.55"/><circle cx="378.4" cy="261.8" r="1.55"/><circle cx="361.8" cy="264.0" r="1.55"/><circle cx="338.6" cy="270.1" r="1.55"/><circle cx="367.8" cy="274.4" r="1.55"/><circle cx="345.3" cy="281.4" r="1.55"/><circle cx="355.9" cy="280.8" r="1.55"/><circle cx="356.8" cy="285.0" r="1.55"/><circle cx="366.9" cy="286.0" r="1.55"/><circle cx="370.0" cy="285.0" r="1.55"/><circle cx="338.2" cy="289.6" r="1.55"/><circle cx="342.6" cy="290.2" r="1.55"/><circle cx="347.3" cy="288.3" r="1.55"/><circle cx="360.9" cy="287.4" r="1.55"/><circle cx="366.9" cy="288.3" r="1.55"/><circle cx="369.6" cy="289.1" r="1.55"/><circle cx="317.9" cy="292.7" r="1.55"/><circle cx="344.0" cy="292.4" r="1.55"/><circle cx="359.6" cy="292.4" r="1.55"/><circle cx="365.6" cy="290.9" r="1.55"/><circle cx="368.7" cy="292.0" r="1.55"/><circle cx="380.2" cy="292.0" r="1.55"/><circle cx="312.6" cy="296.0" r="1.55"/><circle cx="323.9" cy="295.7" r="1.55"/><circle cx="321.2" cy="297.3" r="1.55"/><circle cx="334.9" cy="297.3" r="1.55"/><circle cx="343.7" cy="296.4" r="1.55"/><circle cx="347.3" cy="296.4" r="1.55"/><circle cx="351.0" cy="295.7" r="1.55"/><circle cx="356.8" cy="296.0" r="1.55"/><circle cx="364.2" cy="296.4" r="1.55"/><circle cx="366.4" cy="295.1" r="1.55"/><circle cx="369.6" cy="294.6" r="1.55"/><circle cx="372.9" cy="293.8" r="1.55"/><circle cx="376.6" cy="296.0" r="1.55"/><circle cx="380.2" cy="296.0" r="1.55"/><circle cx="403.5" cy="294.2" r="1.55"/><circle cx="315.7" cy="300.0" r="1.55"/><circle cx="351.7" cy="299.7" r="1.55"/><circle cx="356.8" cy="298.8" r="1.55"/><circle cx="366.0" cy="298.8" r="1.55"/><circle cx="370.0" cy="297.8" r="1.55"/><circle cx="380.2" cy="297.8" r="1.55"/><circle cx="353.2" cy="301.9" r="1.55"/><circle cx="356.8" cy="301.1" r="1.55"/><circle cx="366.9" cy="301.5" r="1.55"/><circle cx="371.5" cy="300.0" r="1.55"/><circle cx="377.0" cy="300.6" r="1.55"/><circle cx="380.2" cy="301.1" r="1.55"/><circle cx="331.8" cy="302.4" r="1.55"/><circle cx="345.3" cy="303.3" r="1.55"/><circle cx="361.4" cy="303.3" r="1.55"/><circle cx="366.0" cy="303.7" r="1.55"/><circle cx="369.6" cy="303.7" r="1.55"/><circle cx="380.2" cy="303.0" r="1.55"/><circle cx="385.7" cy="303.3" r="1.55"/><circle cx="328.1" cy="306.1" r="1.55"/><circle cx="344.6" cy="307.0" r="1.55"/><circle cx="358.3" cy="306.1" r="1.55"/><circle cx="360.5" cy="307.0" r="1.55"/><circle cx="374.8" cy="306.1" r="1.55"/><circle cx="380.6" cy="305.5" r="1.55"/><circle cx="384.3" cy="306.1" r="1.55"/><circle cx="388.8" cy="306.1" r="1.55"/><circle cx="330.3" cy="310.6" r="1.55"/><circle cx="334.5" cy="310.6" r="1.55"/><circle cx="339.8" cy="309.7" r="1.55"/><circle cx="360.5" cy="309.2" r="1.55"/><circle cx="371.5" cy="309.7" r="1.55"/><circle cx="374.2" cy="308.4" r="1.55"/><circle cx="315.7" cy="313.9" r="1.55"/><circle cx="334.5" cy="313.9" r="1.55"/><circle cx="350.4" cy="314.3" r="1.55"/><circle cx="357.8" cy="312.5" r="1.55"/><circle cx="367.4" cy="313.4" r="1.55"/><circle cx="372.4" cy="312.1" r="1.55"/><circle cx="376.6" cy="311.0" r="1.55"/><circle cx="352.3" cy="317.4" r="1.55"/><circle cx="362.3" cy="317.4" r="1.55"/><circle cx="367.8" cy="316.0" r="1.55"/><circle cx="377.0" cy="317.4" r="1.55"/><circle cx="337.6" cy="320.0" r="1.55"/><circle cx="341.3" cy="321.1" r="1.55"/><circle cx="345.3" cy="321.1" r="1.55"/><circle cx="360.5" cy="319.6" r="1.55"/><circle cx="343.1" cy="323.8" r="1.55"/><circle cx="351.7" cy="322.7" r="1.55"/><circle cx="356.8" cy="322.0" r="1.55"/><circle cx="360.5" cy="322.7" r="1.55"/><circle cx="365.6" cy="322.0" r="1.55"/><circle cx="367.8" cy="322.0" r="1.55"/><circle cx="373.8" cy="322.7" r="1.55"/><circle cx="308.4" cy="325.5" r="1.55"/><circle cx="357.4" cy="326.6" r="1.55"/><circle cx="383.4" cy="326.4" r="1.55"/><circle cx="366.9" cy="327.9" r="1.55"/><circle cx="355.9" cy="328.4" r="1.55"/><circle cx="353.7" cy="330.6" r="1.55"/><circle cx="339.1" cy="333.9" r="1.55"/><circle cx="336.7" cy="336.4" r="1.55"/><circle cx="366.0" cy="333.3" r="1.55"/><circle cx="366.4" cy="334.8" r="1.55"/><circle cx="318.1" cy="337.5" r="1.55"/><circle cx="326.7" cy="340.3" r="1.55"/><circle cx="329.1" cy="342.1" r="1.55"/><circle cx="322.5" cy="342.8" r="1.55"/><circle cx="344.6" cy="340.3" r="1.55"/><circle cx="352.6" cy="340.3" r="1.55"/><circle cx="359.6" cy="339.4" r="1.55"/><circle cx="367.8" cy="342.1" r="1.55"/><circle cx="374.2" cy="342.8" r="1.55"/><circle cx="380.2" cy="353.4" r="1.55"/><circle cx="362.0" cy="354.9" r="1.55"/><circle cx="368.7" cy="354.4" r="1.55"/><circle cx="372.4" cy="354.4" r="1.55"/><circle cx="366.0" cy="356.2" r="1.55"/><circle cx="369.6" cy="357.1" r="1.55"/><circle cx="371.5" cy="358.4" r="1.55"/><circle cx="347.2" cy="358.0" r="1.55"/><circle cx="353.7" cy="361.7" r="1.55"/><circle cx="332.7" cy="363.1" r="1.55"/><circle cx="370.0" cy="293.2" r="1.55"/><circle cx="368.0" cy="296.2" r="1.55"/><circle cx="368.5" cy="301.3" r="1.55"/></g>
</g>
<g id="panel-I">
<path class="ax" style="stroke:#888;stroke-width:1.4" d="M443.25 250.0V372.80H552.0"/>
<path class="rl" d="M449.2 305.7L543.8 321.4"/>
<text x="443.6" y="245.1" class="lt">I</text>
<text x="443.6" y="381.5" class="tk" text-anchor="middle">4</text>
<text x="474.5" y="381.5" class="tk" text-anchor="middle">8</text>
<text x="505.7" y="381.5" class="tk" text-anchor="middle">12</text>
<text x="537.0" y="381.5" class="tk" text-anchor="middle">16</text>
<text x="453.7" y="391.3" class="tt" textLength="92.3" lengthAdjust="spacingAndGlyphs" xml:space="preserve">Cardio ankle vascular index-1st session</text>
<text x="520.9" y="246.3" class="rp" textLength="20.8" lengthAdjust="spacingAndGlyphs" xml:space="preserve">r=-0.10</text>
<text x="520.9" y="254.8" class="rp" textLength="19.1" lengthAdjust="spacingAndGlyphs" xml:space="preserve">p=0.27</text>
<g class="pt"><circle cx="551.4" cy="288.0" r="1.55"/><circle cx="465.8" cy="252.7" r="1.55"/><circle cx="498.3" cy="264.4" r="1.55"/><circle cx="475.5" cy="270.4" r="1.55"/><circle cx="473.1" cy="275.0" r="1.55"/><circle cx="471.8" cy="281.0" r="1.55"/><circle cx="481.3" cy="281.9" r="1.55"/><circle cx="460.3" cy="285.4" r="1.55"/><circle cx="459.4" cy="287.8" r="1.55"/><circle cx="457.5" cy="290.5" r="1.55"/><circle cx="465.2" cy="290.9" r="1.55"/><circle cx="469.1" cy="289.6" r="1.55"/><circle cx="479.5" cy="289.6" r="1.55"/><circle cx="481.9" cy="290.9" r="1.55"/><circle cx="491.0" cy="289.6" r="1.55"/><circle cx="499.6" cy="292.4" r="1.55"/><circle cx="455.2" cy="295.1" r="1.55"/><circle cx="457.5" cy="296.4" r="1.55"/><circle cx="460.8" cy="296.4" r="1.55"/><circle cx="465.8" cy="293.3" r="1.55"/><circle cx="469.4" cy="293.3" r="1.55"/><circle cx="473.1" cy="292.7" r="1.55"/><circle cx="476.7" cy="294.2" r="1.55"/><circle cx="485.9" cy="293.3" r="1.55"/><circle cx="491.0" cy="292.7" r="1.55"/><circle cx="494.7" cy="293.8" r="1.55"/><circle cx="466.7" cy="296.4" r="1.55"/><circle cx="470.3" cy="296.9" r="1.55"/><circle cx="474.0" cy="296.4" r="1.55"/><circle cx="477.6" cy="297.3" r="1.55"/><circle cx="481.3" cy="296.0" r="1.55"/><circle cx="485.3" cy="296.4" r="1.55"/><circle cx="491.0" cy="296.9" r="1.55"/><circle cx="493.6" cy="296.4" r="1.55"/><circle cx="510.9" cy="297.5" r="1.55"/><circle cx="463.6" cy="301.1" r="1.55"/><circle cx="467.6" cy="300.6" r="1.55"/><circle cx="471.3" cy="301.5" r="1.55"/><circle cx="474.9" cy="300.0" r="1.55"/><circle cx="476.7" cy="301.1" r="1.55"/><circle cx="465.8" cy="304.2" r="1.55"/><circle cx="470.3" cy="303.7" r="1.55"/><circle cx="479.1" cy="304.2" r="1.55"/><circle cx="483.1" cy="303.3" r="1.55"/><circle cx="489.2" cy="304.2" r="1.55"/><circle cx="462.7" cy="306.1" r="1.55"/><circle cx="474.5" cy="306.1" r="1.55"/><circle cx="485.9" cy="306.1" r="1.55"/><circle cx="457.5" cy="307.4" r="1.55"/><circle cx="472.2" cy="307.9" r="1.55"/><circle cx="482.6" cy="307.9" r="1.55"/><circle cx="490.4" cy="308.4" r="1.55"/><circle cx="493.2" cy="307.0" r="1.55"/><circle cx="504.2" cy="307.4" r="1.55"/><circle cx="454.4" cy="311.0" r="1.55"/><circle cx="464.9" cy="311.0" r="1.55"/><circle cx="477.6" cy="311.0" r="1.55"/><circle cx="497.4" cy="311.0" r="1.55"/><circle cx="450.8" cy="313.9" r="1.55"/><circle cx="458.5" cy="314.7" r="1.55"/><circle cx="470.9" cy="313.4" r="1.55"/><circle cx="488.6" cy="313.4" r="1.55"/><circle cx="490.4" cy="313.4" r="1.55"/><circle cx="495.9" cy="313.9" r="1.55"/><circle cx="495.9" cy="316.9" r="1.55"/><circle cx="485.9" cy="317.4" r="1.55"/><circle cx="499.0" cy="318.2" r="1.55"/><circle cx="502.9" cy="319.3" r="1.55"/><circle cx="469.1" cy="320.5" r="1.55"/><circle cx="470.3" cy="322.7" r="1.55"/><circle cx="477.6" cy="322.4" r="1.55"/><circle cx="481.9" cy="322.4" r="1.55"/><circle cx="490.4" cy="322.4" r="1.55"/><circle cx="495.0" cy="322.0" r="1.55"/><circle cx="500.5" cy="321.1" r="1.55"/><circle cx="507.4" cy="322.9" r="1.55"/><circle cx="452.1" cy="323.8" r="1.55"/><circle cx="461.2" cy="325.7" r="1.55"/><circle cx="477.6" cy="324.7" r="1.55"/><circle cx="474.0" cy="326.6" r="1.55"/><circle cx="470.9" cy="328.4" r="1.55"/><circle cx="509.1" cy="328.4" r="1.55"/><circle cx="488.1" cy="330.6" r="1.55"/><circle cx="470.9" cy="333.3" r="1.55"/><circle cx="487.3" cy="333.9" r="1.55"/><circle cx="504.2" cy="334.3" r="1.55"/><circle cx="485.9" cy="335.5" r="1.55"/><circle cx="469.4" cy="337.0" r="1.55"/><circle cx="470.9" cy="337.9" r="1.55"/><circle cx="505.1" cy="339.4" r="1.55"/><circle cx="462.1" cy="340.3" r="1.55"/><circle cx="478.6" cy="340.3" r="1.55"/><circle cx="489.2" cy="340.6" r="1.55"/><circle cx="465.8" cy="342.5" r="1.55"/><circle cx="475.5" cy="343.0" r="1.55"/><circle cx="482.6" cy="342.5" r="1.55"/><circle cx="463.9" cy="343.4" r="1.55"/><circle cx="477.6" cy="353.4" r="1.55"/><circle cx="474.5" cy="354.7" r="1.55"/><circle cx="477.6" cy="355.3" r="1.55"/><circle cx="491.7" cy="356.2" r="1.55"/><circle cx="467.0" cy="357.5" r="1.55"/><circle cx="473.1" cy="358.0" r="1.55"/><circle cx="490.4" cy="358.4" r="1.55"/><circle cx="494.1" cy="361.7" r="1.55"/><circle cx="468.1" cy="363.9" r="1.55"/><circle cx="471.4" cy="292.7" r="1.55"/><circle cx="467.8" cy="297.3" r="1.55"/><circle cx="470.9" cy="298.3" r="1.55"/><circle cx="473.9" cy="298.8" r="1.55"/><circle cx="466.3" cy="300.8" r="1.55"/><circle cx="469.9" cy="301.8" r="1.55"/><circle cx="472.9" cy="301.8" r="1.55"/><circle cx="478.5" cy="299.8" r="1.55"/><circle cx="471.9" cy="304.4" r="1.55"/><circle cx="477.5" cy="309.4" r="1.55"/><circle cx="482.0" cy="309.4" r="1.55"/></g>
</g>
</svg></body></html>
